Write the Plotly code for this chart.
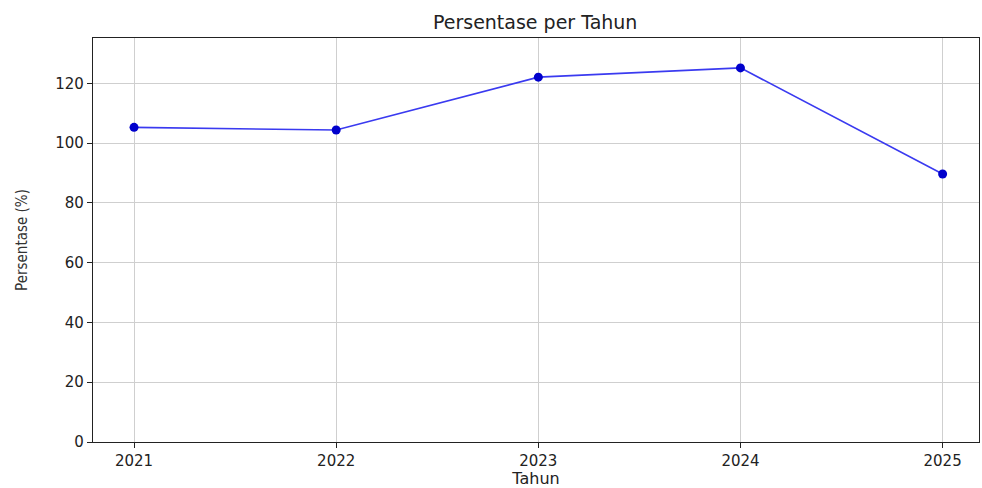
import plotly.graph_objects as go

years = [2021, 2022, 2023, 2024, 2025]
persentase = [105.3, 104.4, 122.1, 125.2, 89.7]
x_ticks = [2021, 2022, 2023, 2024, 2025]
y_ticks = [0, 20, 40, 60, 80, 100, 120]

fig = go.Figure()
fig.add_trace(go.Scatter(
    x=years, y=persentase, mode="lines+markers",
    line=dict(color="#3a3af0", width=1.6),
    marker=dict(color="#0000cc", size=9),
))

fig.update_layout(
    width=982, height=488,
    margin=dict(l=93, r=3, t=38, b=46, autoexpand=False),
    paper_bgcolor="white", plot_bgcolor="white",
    showlegend=False,
    title=dict(text="Persentase per Tahun", x=0.545, xanchor="center", y=0.955, yanchor="middle",
               font=dict(family="DejaVu Sans", size=19, color="#222")),
    font=dict(family="DejaVu Sans", size=15, color="#222"),
)
fig.update_xaxes(
    range=[2020.797, 2025.18], tickvals=x_ticks, ticktext=[str(v) for v in x_ticks],
    showgrid=True, gridcolor="#cfcfcf", gridwidth=1, automargin=False,
    showline=True, linecolor="#222", linewidth=1.2, mirror=True,
    ticks="outside", ticklen=5, tickcolor="#222", zeroline=False,
    title=dict(text="Tahun", font=dict(family="DejaVu Sans", size=16), standoff=4),
)
fig.update_yaxes(
    range=[0, 135.2], tickvals=y_ticks, automargin=False,
    showgrid=True, gridcolor="#cfcfcf", gridwidth=1,
    showline=True, linecolor="#222", linewidth=1.2, mirror=True,
    ticks="outside", ticklen=5, tickcolor="#222", zeroline=False,
    title=dict(text="Persentase (%)", font=dict(family="DejaVu Sans Condensed, Liberation Sans Narrow, Liberation Sans", size=15, color="#333"), standoff=24),
)
fig.write_html("out.html", config={"displayModeBar": False},
               post_script="document.body.style.margin='0';")
